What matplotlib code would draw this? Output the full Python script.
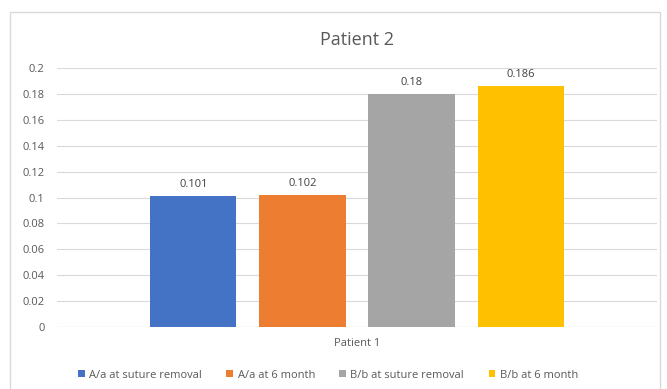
import matplotlib
matplotlib.use("Agg")
import matplotlib.pyplot as plt
from matplotlib.patches import Rectangle, Patch

plt.rcParams['font.family'] = ['Open Sans', 'DejaVu Sans']

series = ["A/a at suture removal", "A/a at 6 month", "B/b at suture removal", "B/b at 6 month"]
values = [0.101, 0.102, 0.18, 0.186]
colors = ["#4472C4", "#ED7D31", "#A5A5A5", "#FFC000"]
category = "Patient 1"
title = "Patient 2"
yticks = [0, 0.02, 0.04, 0.06, 0.08, 0.1, 0.12, 0.14, 0.16, 0.18, 0.2]
ytick_labels = ["0", "0.02", "0.04", "0.06", "0.08", "0.1", "0.12", "0.14", "0.16", "0.18", "0.2"]

W, H = 667, 389
fig = plt.figure(figsize=(W / 100, H / 100), dpi=100)
fig.patch.set_facecolor("white")

# chart frame
fig.patches.append(Rectangle((10 / W, -0.1), (660 - 10) / W, 1 - 12 / H + 0.1,
                             transform=fig.transFigure, fill=False,
                             edgecolor="#D9D9D9", linewidth=1.0))

ax = fig.add_axes([57 / W, 1 - 327 / H, 600 / W, (327 - 68) / H])
text_col = "#595959"

positions = list(range(len(values)))
bars = ax.bar(positions, values, width=0.79, color=colors, zorder=3)
for b, v in zip(bars, values):
    ax.text(b.get_x() + b.get_width() / 2, v + 0.0045, f"{v:g}",
            ha="center", va="bottom", fontsize=8, color="#404040")

ax.set_xlim(-1.25, 4.25)
ax.set_ylim(0, 0.2)
ax.set_yticks(yticks)
ax.set_yticklabels(ytick_labels)
ax.tick_params(axis="y", length=0, labelsize=8, labelcolor=text_col, pad=9)
ax.set_xticks([1.5])
ax.set_xticklabels([category])
ax.tick_params(axis="x", length=0, labelsize=8, labelcolor=text_col, pad=8)
ax.yaxis.grid(True, color="#D9D9D9", linewidth=0.8, zorder=0)
for s in ax.spines.values():
    s.set_visible(False)
ax.axhline(0, color="#D9D9D9", linewidth=0.8, zorder=2)

fig.text(357 / W, 1 - 40 / H, title, ha="center", va="center",
         fontsize=13, color=text_col)

handles = [Patch(facecolor=c, edgecolor="none") for c in colors]
fig.legend(handles, series, loc="center", bbox_to_anchor=(328 / W, 1 - 375 / H),
           ncol=4, frameon=False, fontsize=8, labelcolor=text_col,
           handlelength=0.6, handleheight=0.6, handletextpad=0.4,
           columnspacing=2.2)

fig.savefig("out.png", dpi=100)
